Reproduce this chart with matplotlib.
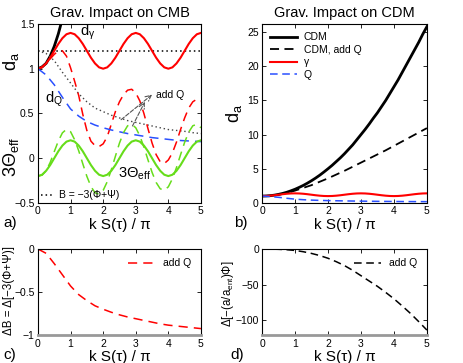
import numpy as np
import matplotlib
matplotlib.use('Agg')
import matplotlib.pyplot as plt

plt.rcParams['font.family'] = ['Liberation Sans', 'DejaVu Sans']
plt.rcParams['mathtext.fontset'] = 'custom'
plt.rcParams['mathtext.rm'] = 'Liberation Sans'
plt.rcParams['mathtext.it'] = 'Liberation Sans'
plt.rcParams['mathtext.default'] = 'regular'

# x grids (k S(tau) / pi)
x_fine = np.arange(41) * 0.125
x_coarse = np.arange(21) * 0.25

# panel a / b : oscillating curves, read at steps of 0.125
d_gamma = [1.000, 1.015, 1.059, 1.123, 1.200, 1.277, 1.341, 1.385, 1.400, 1.385,
           1.341, 1.277, 1.200, 1.123, 1.059, 1.015, 1.000, 1.015, 1.059, 1.123,
           1.200, 1.277, 1.341, 1.385, 1.400, 1.385, 1.341, 1.277, 1.200, 1.123,
           1.059, 1.015, 1.000, 1.015, 1.059, 1.123, 1.200, 1.277, 1.341, 1.385, 1.400]
d_gamma_addQ = [1.00, 1.02, 1.06, 1.11, 1.16, 1.20, 1.20, 1.14, 1.01, 0.86,
                0.70, 0.49, 0.31, 0.19, 0.14, 0.13, 0.16, 0.24, 0.38, 0.52,
                0.63, 0.71, 0.76, 0.77, 0.73, 0.64, 0.50, 0.33, 0.17, 0.04,
                -0.04, -0.06, -0.02, 0.06, 0.18, 0.32, 0.45, 0.56, 0.63, 0.66, 0.64]
theta_eff = [-0.200, -0.185, -0.141, -0.077, 0.000, 0.077, 0.141, 0.185, 0.200, 0.185,
             0.141, 0.077, 0.000, -0.077, -0.141, -0.185, -0.200, -0.185, -0.141, -0.077,
             0.000, 0.077, 0.141, 0.185, 0.200, 0.185, 0.141, 0.077, 0.000, -0.077,
             -0.141, -0.185, -0.200, -0.185, -0.141, -0.077, 0.000, 0.077, 0.141, 0.185, 0.200]
theta_eff_addQ = [-0.200, -0.190, -0.140, -0.048, 0.073, 0.192, 0.283, 0.323, 0.296, 0.206,
                  0.083, -0.062, -0.203, -0.316, -0.387, -0.403, -0.360, -0.263, -0.129, 0.021,
                  0.168, 0.286, 0.362, 0.379, 0.340, 0.250, 0.124, -0.019, -0.158, -0.271,
                  -0.342, -0.359, -0.320, -0.230, -0.104, 0.039, 0.178, 0.291, 0.362, 0.379, 0.340]
d_cdm = [1.00, 1.02, 1.06, 1.14, 1.25, 1.39, 1.56, 1.77, 2.00, 2.27,
         2.56, 2.89, 3.25, 3.64, 4.06, 4.52, 5.00, 5.50, 6.05, 6.60,
         7.20, 7.85, 8.50, 9.25, 10.0, 10.75, 11.55, 12.4, 13.2, 14.1,
         15.0, 16.0, 17.0, 18.0, 19.1, 20.2, 21.3, 22.4, 23.5, 24.7, 25.8]

# smooth curves, read at steps of 0.25
d_Q = [1.00, 0.93, 0.82, 0.68, 0.55, 0.47, 0.41, 0.37, 0.34, 0.315, 0.295,
       0.275, 0.26, 0.245, 0.23, 0.22, 0.21, 0.20, 0.195, 0.19, 0.185]
B_addQ = [1.20, 1.17, 1.09, 0.96, 0.84, 0.72, 0.63, 0.56, 0.52, 0.48, 0.45,
          0.42, 0.40, 0.38, 0.36, 0.34, 0.32, 0.31, 0.30, 0.285, 0.275]
B_const = [1.2] * 21
d_cdm_addQ = [1.00, 1.05, 1.20, 1.45, 1.80, 2.20, 2.60, 3.10, 3.60, 4.15, 4.70,
              5.30, 5.90, 6.50, 7.10, 7.70, 8.35, 9.00, 9.65, 10.3, 10.95]
dB = [0.0, -0.05, -0.17, -0.30, -0.43, -0.53, -0.60, -0.66, -0.70, -0.735, -0.765,
      -0.79, -0.81, -0.83, -0.85, -0.87, -0.885, -0.895, -0.905, -0.915, -0.925]
dPhi = [0.0, -0.1, -0.4, -1.0, -2.0, -3.8, -6.2, -9.2, -13.0, -17.8, -23.3,
        -30.0, -37.5, -45.0, -52.5, -61.0, -70.0, -80.0, -90.5, -102.0, -114.0]

red = '#ff0000'
blue = '#2a50ff'
green = '#66dd1a'
xlab = 'k S(τ) / π'

fig = plt.figure(figsize=(4.63, 3.63), dpi=100)
ax_a = fig.add_axes([0.082, 0.441, 0.352, 0.493])
ax_b = fig.add_axes([0.566, 0.441, 0.356, 0.493])
ax_c = fig.add_axes([0.082, 0.077, 0.352, 0.237])
ax_d = fig.add_axes([0.566, 0.077, 0.356, 0.237])

for ax in (ax_a, ax_b, ax_c, ax_d):
    ax.tick_params(direction='in', top=True, right=True, labelsize=7.5,
                   length=3, width=0.6, pad=2.5)
    for s in ax.spines.values():
        s.set_linewidth(0.8)
    ax.set_xlim(0, 5)
    ax.set_xticks(range(6))

# ---- panel a
ax_a.plot(x_fine, d_cdm, color='k', lw=2)
ax_a.plot(x_coarse, B_const, color='k', ls=(0, (1, 2)), lw=1.1)
ax_a.plot(x_coarse, B_addQ, color='#444444', ls=(0, (1, 2)), lw=1.0)
ax_a.plot(x_fine, d_gamma, color=red, lw=1.5)
ax_a.plot(x_fine, d_gamma_addQ, color=red, ls=(0, (6, 4)), lw=1.1)
ax_a.plot(x_coarse, d_Q, color=blue, ls=(0, (6, 4)), lw=1.1)
ax_a.plot(x_fine, theta_eff, color=green, lw=1.5)
ax_a.plot(x_fine, theta_eff_addQ, color=green, ls=(0, (6, 4)), lw=1.1)
ax_a.set_ylim(-0.5, 1.5)
ax_a.set_yticks([-0.5, 0, 0.5, 1, 1.5])
ax_a.set_yticklabels(['−0.5', '0', '0.5', '1', '1.5'])
ax_a.set_title('Grav. Impact on CMB', fontsize=10.5, pad=5)
ax_a.set_xlabel(xlab, fontsize=11, labelpad=1)
ax_a.text(1.3, 1.41, r'$d_\gamma$', fontsize=10.5, ha='left', va='center')
ax_a.text(0.22, 0.66, r'$d_Q$', fontsize=10.5, ha='left', va='center')
ax_a.text(2.45, -0.18, r'$3\Theta_{eff}$', fontsize=10.5, ha='left', va='center')
ax_a.text(3.62, 0.71, 'add Q', fontsize=7.5, ha='left', va='center')
arrow = dict(arrowstyle='->', ls='--', color='#555555', lw=0.8, shrinkA=0, shrinkB=0)
ax_a.annotate('', xy=(3.5, 0.71), xytext=(2.55, 0.43), arrowprops=arrow)
ax_a.annotate('', xy=(3.28, 0.63), xytext=(2.9, 0.36), arrowprops=arrow)
ax_a.plot([0.1, 0.5], [-0.41, -0.41], color='k', ls=(0, (1, 2)), lw=1.1)
ax_a.text(0.65, -0.41, 'B = −3(Φ+Ψ)', fontsize=7.5, ha='left', va='center')
fig.text(0.024, 0.83, r'$d_a$', fontsize=13, rotation=90, ha='center', va='center')
fig.text(0.024, 0.567, r'$3\Theta_{eff}$', fontsize=13, rotation=90, ha='center', va='center')

# ---- panel b
ax_b.plot(x_fine, d_cdm, color='k', lw=2, label='CDM')
ax_b.plot(x_coarse, d_cdm_addQ, color='k', ls=(0, (5, 3)), lw=1.3, label='CDM, add Q')
ax_b.plot(x_fine, d_gamma, color=red, lw=1.5, label='γ')
ax_b.plot(x_coarse, d_Q, color=blue, ls=(0, (5, 3)), lw=1.1, label='Q')
ax_b.set_ylim(0, 26.2)
ax_b.set_yticks([0, 5, 10, 15, 20, 25])
ax_b.set_title('Grav. Impact on CDM', fontsize=10.5, pad=5)
ax_b.set_xlabel(xlab, fontsize=11, labelpad=1)
ax_b.set_ylabel(r'$d_a$', fontsize=13, labelpad=2)
ax_b.legend(loc='upper left', frameon=False, fontsize=7.5, handlelength=2.6,
            labelspacing=0.25, borderaxespad=0.4, handletextpad=0.6)

# ---- panel c
ax_c.plot(x_coarse, dB, color=red, ls=(0, (6, 4)), lw=1.1, label='add Q')
ax_c.set_ylim(-1, 0)
ax_c.set_yticks([-1, -0.5, 0])
ax_c.set_yticklabels(['−1', '−0.5', '0'])
ax_c.set_xlabel(xlab, fontsize=11, labelpad=1)
fig.text(0.02, 0.2, 'ΔB = Δ[−3(Φ+Ψ)]', fontsize=8.3, rotation=90,
         ha='center', va='center')
ax_c.legend(loc='upper right', frameon=False, fontsize=7.5, handlelength=2.6)
ax_c.spines['bottom'].set_color('#999999')
ax_c.spines['bottom'].set_linewidth(2)

# ---- panel d
ax_d.plot(x_coarse, dPhi, color='k', ls=(0, (5, 3)), lw=1.1, label='add Q')
ax_d.set_ylim(-121, 0)
ax_d.set_yticks([-100, -50, 0])
ax_d.set_yticklabels(['−100', '−50', '0'])
ax_d.tick_params(axis='y', pad=2)
ax_d.set_xlabel(xlab, fontsize=11, labelpad=1)
fig.text(0.493, 0.19, r'Δ[−(a/a$_{ent}$)Φ]', fontsize=8.3, rotation=90,
         ha='center', va='center')
ax_d.legend(loc='upper right', frameon=False, fontsize=7.5, handlelength=2.6)
ax_d.spines['bottom'].set_color('#999999')
ax_d.spines['bottom'].set_linewidth(2)

fig.text(0.008, 0.385, 'a)', fontsize=11, ha='left', va='center')
fig.text(0.505, 0.385, 'b)', fontsize=11, ha='left', va='center')
fig.text(0.008, 0.022, 'c)', fontsize=11, ha='left', va='center')
fig.text(0.497, 0.022, 'd)', fontsize=11, ha='left', va='center')

fig.savefig('out.png', dpi=100)
